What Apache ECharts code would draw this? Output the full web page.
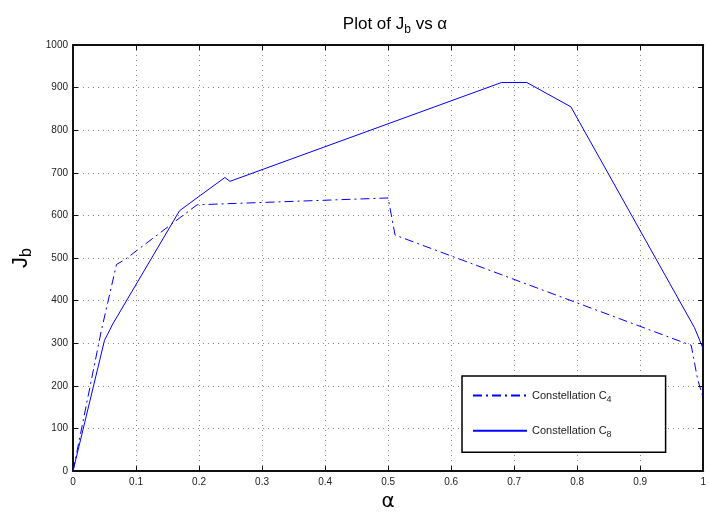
<!DOCTYPE html>
<html>
<head>
<meta charset="utf-8">
<script src="https://cdn.jsdelivr.net/npm/echarts@6/dist/echarts.min.js"></script>
<style>html,body{margin:0;padding:0;background:#fff}#main{width:709px;height:517px}</style>
</head>
<body>
<div id="main"></div>
<script>
var chartDom = document.getElementById('main');
var myChart = echarts.init(chartDom);
var option;

// Constellation C4 (dash-dot)
var c4Alpha = [0, 0.045, 0.069, 0.082, 0.17, 0.197, 0.5, 0.511, 0.981, 0.991, 1.0];
var c4Jb    = [0, 330,   485,   496,   595,  625,   641, 554,   295,   216,   172];
// Constellation C8 (solid)
var c8Alpha = [0, 0.05, 0.063, 0.169, 0.203, 0.241, 0.249, 0.68, 0.72, 0.79, 0.986, 1.0];
var c8Jb    = [0, 307,  345,   611,   648,   689,   680,   912,  912,  855,  337,   287];

var legendNames = ['Constellation C4', 'Constellation C8'];

function pairs(xs, ys) {
  return xs.map(function (x, i) { return [x, ys[i]]; });
}

var font = 'Liberation Sans, Arial, sans-serif';
var axisFont = { fontFamily: font, fontSize: 10, color: '#222' };
var dotted = { show: true, lineStyle: { color: '#888', type: [1, 4], width: 1 } };
var frame = { show: true, onZero: false, lineStyle: { color: '#111', width: 2 } };
var ticksIn = { show: true, inside: true, length: 5, lineStyle: { color: '#111', width: 1 } };

myChart.setOption(option = {
  animation: false,
  backgroundColor: '#fff',
  title: {
    text: '{n|Plot of J}{s|b}{n| vs α}',
    left: 390,
    textAlign: 'center',
    top: 7,
    textStyle: {
      fontWeight: 'normal',
      rich: {
        n: { fontFamily: font, fontSize: 17, color: '#000', fontWeight: 'normal' },
        s: { fontFamily: font, fontSize: 12, color: '#000', fontWeight: 'normal', padding: [12, 0, 0, 0] }
      }
    }
  },
  grid: { left: 73, right: 2, top: 45, bottom: 32 },
  legend: {
    show: true,
    orient: 'vertical',
    left: 462,
    top: 376,
    itemWidth: 54,
    itemHeight: 14,
    itemGap: 21,
    padding: [14, 54, 13, 10],
    backgroundColor: '#fff',
    borderColor: '#000',
    borderWidth: 1.5,
    itemStyle: { opacity: 0 },
    data: legendNames,
    formatter: function (name) {
      return '{n|Constellation C}{s|' + name.slice(-1) + '}';
    },
    textStyle: {
      rich: {
        n: { fontFamily: font, fontSize: 11, color: '#222' },
        s: { fontFamily: font, fontSize: 9, color: '#222', padding: [8, 0, 0, 0] }
      }
    }
  },
  xAxis: [
    {
      type: 'value', min: 0, max: 1, interval: 0.1,
      name: 'α', nameLocation: 'middle', nameGap: 18,
      nameTextStyle: { fontFamily: 'DejaVu Sans, sans-serif', fontSize: 20, color: '#000' },
      axisLine: frame, axisTick: ticksIn, splitLine: dotted,
      axisLabel: Object.assign({ margin: 6, formatter: function (v) { return String(+v.toFixed(1)); } }, axisFont)
    },
    {
      type: 'value', min: 0, max: 1, interval: 0.1, position: 'top',
      axisLine: frame, axisTick: ticksIn, splitLine: { show: false }, axisLabel: { show: false }
    }
  ],
  yAxis: [
    {
      type: 'value', min: 0, max: 1000, interval: 100,
      name: '{n|J}{s|b}', nameLocation: 'middle', nameGap: 30, nameRotate: 90,
      nameTextStyle: {
        rich: {
          n: { fontFamily: font, fontSize: 22, color: '#000' },
          s: { fontFamily: font, fontSize: 16, color: '#000', padding: [12, 0, 0, 0] }
        }
      },
      axisLine: frame, axisTick: ticksIn, splitLine: dotted,
      axisLabel: Object.assign({ margin: 5, formatter: function (v) { return String(v); } }, axisFont)
    },
    {
      type: 'value', min: 0, max: 1000, interval: 100, position: 'right',
      axisLine: frame, axisTick: ticksIn, splitLine: { show: false }, axisLabel: { show: false }
    }
  ],
  series: [
    {
      name: legendNames[0], type: 'line', data: pairs(c4Alpha, c4Jb),
      symbol: 'none', color: '#0000ff',
      lineStyle: { color: '#0000ff', width: 1, type: [9, 4, 2, 4] }
    },
    {
      name: legendNames[1], type: 'line', data: pairs(c8Alpha, c8Jb),
      symbol: 'none', color: '#0000ff',
      lineStyle: { color: '#0000ff', width: 1, type: 'solid' }
    }
  ]
});

option && myChart.setOption(option);
</script>
</body>
</html>
